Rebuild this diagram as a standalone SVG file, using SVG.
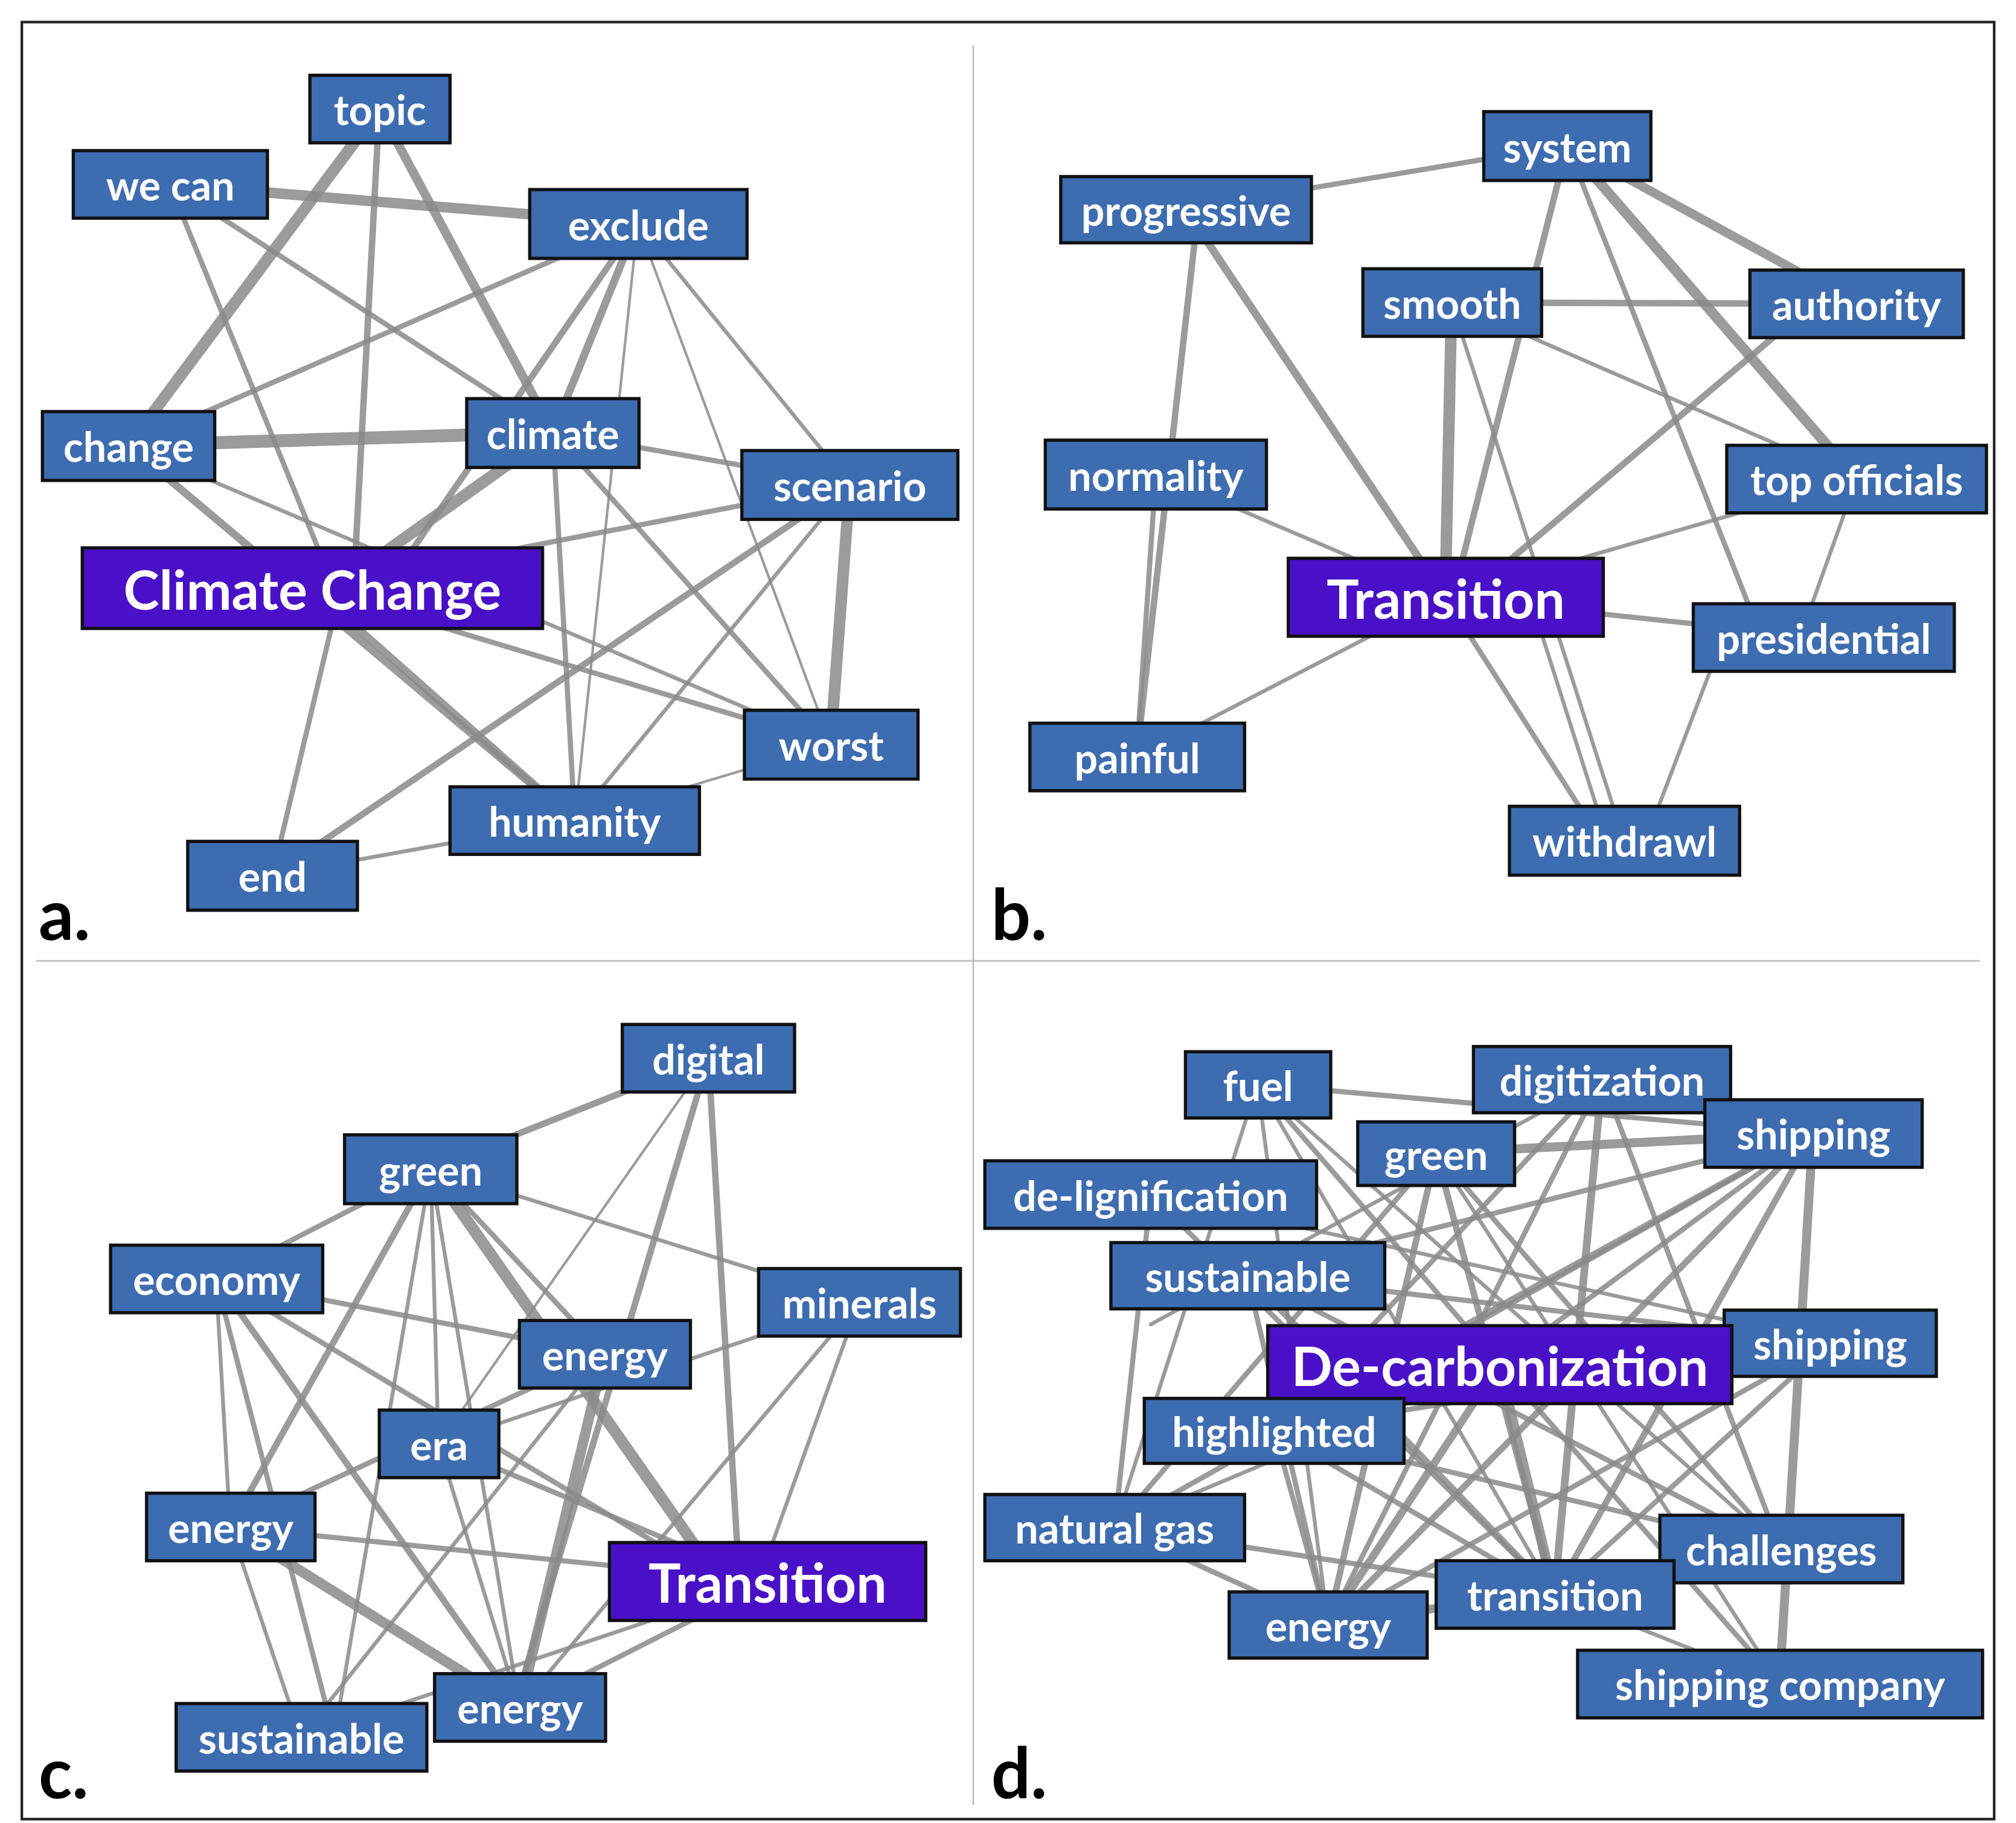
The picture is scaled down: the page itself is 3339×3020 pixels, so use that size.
<svg xmlns="http://www.w3.org/2000/svg" width="3339" height="3020" viewBox="0 0 3339 3020">
<style>
.n rect{fill:#3d6cb0;stroke:#111;stroke-width:2.5}
.m rect{fill:#4a10c8;stroke:#111;stroke-width:2.5}
text{font-family:Lato,"Open Sans","Liberation Sans",sans-serif;font-weight:bold;fill:#fff;text-anchor:middle;dominant-baseline:central}
.n text{font-size:32px}
.m text{font-size:42px}
.lbl{fill:#000;font-size:54px;text-anchor:start}
#edges line{stroke:#8a8a8a;stroke-opacity:0.85;stroke-linecap:round}
</style>
<rect width="3339" height="3020" fill="#fff"/>
<g transform="scale(2.1295,2.151)">
<rect x="17" y="17" width="1534" height="1384" fill="none" stroke="#222" stroke-width="2"/>
<line x1="757" y1="35" x2="757" y2="1390" stroke="#bbb" stroke-width="1.2"/>
<line x1="28" y1="740" x2="1540" y2="740" stroke="#bbb" stroke-width="1.2"/>
<g id="edges">
<!-- a -->
<line x1="132" y1="142" x2="496" y2="172" stroke-width="8"/>
<line x1="295" y1="84" x2="100" y2="343" stroke-width="9"/>
<line x1="295" y1="84" x2="275" y2="453" stroke-width="5"/>
<line x1="295" y1="84" x2="430" y2="333" stroke-width="7"/>
<line x1="132" y1="142" x2="260" y2="453" stroke-width="4"/>
<line x1="132" y1="142" x2="430" y2="333" stroke-width="4"/>
<line x1="496" y1="172" x2="430" y2="333" stroke-width="6"/>
<line x1="496" y1="172" x2="300" y2="453" stroke-width="5"/>
<line x1="496" y1="172" x2="100" y2="343" stroke-width="4"/>
<line x1="496" y1="172" x2="661" y2="373" stroke-width="3"/>
<line x1="496" y1="172" x2="447" y2="632" stroke-width="2"/>
<line x1="496" y1="172" x2="646" y2="573" stroke-width="2"/>
<line x1="100" y1="343" x2="430" y2="333" stroke-width="10"/>
<line x1="100" y1="343" x2="447" y2="632" stroke-width="6"/>
<line x1="100" y1="343" x2="646" y2="573" stroke-width="3"/>
<line x1="430" y1="333" x2="260" y2="453" stroke-width="9"/>
<line x1="430" y1="333" x2="661" y2="373" stroke-width="4"/>
<line x1="430" y1="333" x2="447" y2="632" stroke-width="4"/>
<line x1="430" y1="333" x2="646" y2="573" stroke-width="4"/>
<line x1="243" y1="453" x2="661" y2="373" stroke-width="4"/>
<line x1="243" y1="453" x2="646" y2="573" stroke-width="4"/>
<line x1="243" y1="453" x2="447" y2="632" stroke-width="6"/>
<line x1="265" y1="453" x2="212" y2="674" stroke-width="4"/>
<line x1="661" y1="373" x2="646" y2="573" stroke-width="9"/>
<line x1="661" y1="373" x2="212" y2="674" stroke-width="5"/>
<line x1="661" y1="373" x2="447" y2="632" stroke-width="3"/>
<line x1="646" y1="573" x2="447" y2="632" stroke-width="2"/>
<line x1="447" y1="632" x2="212" y2="674" stroke-width="3"/>
<!-- b -->
<line x1="922" y1="161" x2="1219" y2="112" stroke-width="4"/>
<line x1="932" y1="161" x2="884" y2="583" stroke-width="5"/>
<line x1="922" y1="161" x2="1124" y2="460" stroke-width="6"/>
<line x1="1219" y1="112" x2="1444" y2="234" stroke-width="7"/>
<line x1="1219" y1="112" x2="1444" y2="369" stroke-width="8"/>
<line x1="1219" y1="112" x2="1370" y2="491" stroke-width="4"/>
<line x1="1219" y1="112" x2="1130" y2="460" stroke-width="5"/>
<line x1="1129" y1="233" x2="1444" y2="234" stroke-width="5"/>
<line x1="1129" y1="233" x2="1124" y2="460" stroke-width="9"/>
<line x1="1129" y1="233" x2="1444" y2="369" stroke-width="3"/>
<line x1="1129" y1="233" x2="1263" y2="647" stroke-width="3"/>
<line x1="1410" y1="234" x2="1140" y2="460" stroke-width="5"/>
<line x1="899" y1="365" x2="1124" y2="460" stroke-width="3"/>
<line x1="899" y1="365" x2="884" y2="583" stroke-width="4"/>
<line x1="1444" y1="369" x2="1124" y2="460" stroke-width="3"/>
<line x1="1444" y1="369" x2="1400" y2="491" stroke-width="3"/>
<line x1="1124" y1="460" x2="1418" y2="491" stroke-width="4"/>
<line x1="1124" y1="460" x2="884" y2="583" stroke-width="3"/>
<line x1="1124" y1="460" x2="1245" y2="647" stroke-width="4"/>
<line x1="1190" y1="460" x2="1250" y2="647" stroke-width="3"/>
<line x1="1340" y1="491" x2="1280" y2="647" stroke-width="3"/>
<!-- c -->
<line x1="335" y1="900" x2="551" y2="815" stroke-width="5"/>
<line x1="335" y1="900" x2="168" y2="985" stroke-width="4"/>
<line x1="335" y1="900" x2="668" y2="1003" stroke-width="3"/>
<line x1="335" y1="900" x2="560" y2="1218" stroke-width="9"/>
<line x1="335" y1="900" x2="470" y2="1043" stroke-width="4"/>
<line x1="335" y1="900" x2="341" y2="1112" stroke-width="3"/>
<line x1="335" y1="900" x2="179" y2="1176" stroke-width="5"/>
<line x1="335" y1="900" x2="260" y2="1338" stroke-width="3"/>
<line x1="335" y1="900" x2="404" y2="1315" stroke-width="3"/>
<line x1="551" y1="815" x2="400" y2="1315" stroke-width="5"/>
<line x1="551" y1="815" x2="575" y2="1218" stroke-width="5"/>
<line x1="551" y1="815" x2="341" y2="1112" stroke-width="2"/>
<line x1="168" y1="985" x2="470" y2="1043" stroke-width="4"/>
<line x1="168" y1="985" x2="560" y2="1218" stroke-width="4"/>
<line x1="168" y1="985" x2="179" y2="1176" stroke-width="3"/>
<line x1="168" y1="985" x2="260" y2="1338" stroke-width="4"/>
<line x1="168" y1="985" x2="404" y2="1315" stroke-width="5"/>
<line x1="668" y1="1003" x2="341" y2="1112" stroke-width="3"/>
<line x1="668" y1="1003" x2="404" y2="1315" stroke-width="3"/>
<line x1="668" y1="1003" x2="590" y2="1218" stroke-width="3"/>
<line x1="470" y1="1043" x2="179" y2="1176" stroke-width="4"/>
<line x1="470" y1="1043" x2="404" y2="1315" stroke-width="8"/>
<line x1="470" y1="1043" x2="234" y2="1338" stroke-width="3"/>
<line x1="341" y1="1112" x2="597" y2="1218" stroke-width="4"/>
<line x1="341" y1="1112" x2="404" y2="1315" stroke-width="3"/>
<line x1="179" y1="1176" x2="597" y2="1218" stroke-width="4"/>
<line x1="179" y1="1176" x2="404" y2="1315" stroke-width="8"/>
<line x1="179" y1="1176" x2="234" y2="1338" stroke-width="3"/>
<line x1="597" y1="1218" x2="404" y2="1315" stroke-width="4"/>
<line x1="597" y1="1218" x2="234" y2="1338" stroke-width="3"/>
<!-- d -->
<line x1="978" y1="835" x2="1410" y2="873" stroke-width="4"/>
<line x1="978" y1="835" x2="1166" y2="1051" stroke-width="4"/>
<line x1="978" y1="835" x2="1209" y2="1228" stroke-width="3"/>
<line x1="978" y1="835" x2="1033" y2="1251" stroke-width="3"/>
<line x1="978" y1="835" x2="867" y2="1176" stroke-width="3"/>
<line x1="978" y1="835" x2="1385" y2="1193" stroke-width="3"/>
<line x1="1246" y1="831" x2="1410" y2="873" stroke-width="6"/>
<line x1="1246" y1="831" x2="1209" y2="1228" stroke-width="6"/>
<line x1="1246" y1="831" x2="991" y2="1102" stroke-width="4"/>
<line x1="1246" y1="831" x2="1033" y2="1251" stroke-width="4"/>
<line x1="1246" y1="831" x2="1385" y2="1193" stroke-width="4"/>
<line x1="1246" y1="831" x2="895" y2="1020" stroke-width="3"/>
<line x1="1117" y1="888" x2="1410" y2="873" stroke-width="7"/>
<line x1="1117" y1="888" x2="1033" y2="1251" stroke-width="5"/>
<line x1="1117" y1="888" x2="1209" y2="1228" stroke-width="5"/>
<line x1="1117" y1="888" x2="1385" y2="1193" stroke-width="4"/>
<line x1="1117" y1="888" x2="867" y2="1176" stroke-width="4"/>
<line x1="1117" y1="888" x2="1384" y2="1297" stroke-width="3"/>
<line x1="1410" y1="873" x2="1384" y2="1297" stroke-width="7"/>
<line x1="1410" y1="873" x2="991" y2="1102" stroke-width="5"/>
<line x1="1410" y1="873" x2="1033" y2="1251" stroke-width="5"/>
<line x1="1410" y1="873" x2="1209" y2="1228" stroke-width="5"/>
<line x1="1410" y1="873" x2="970" y2="982" stroke-width="4"/>
<line x1="1410" y1="873" x2="867" y2="1176" stroke-width="4"/>
<line x1="1410" y1="873" x2="1166" y2="1051" stroke-width="4"/>
<line x1="895" y1="920" x2="1209" y2="1228" stroke-width="4"/>
<line x1="895" y1="920" x2="867" y2="1176" stroke-width="4"/>
<line x1="895" y1="920" x2="1423" y2="1034" stroke-width="3"/>
<line x1="970" y1="982" x2="1423" y2="1034" stroke-width="4"/>
<line x1="970" y1="982" x2="1209" y2="1228" stroke-width="5"/>
<line x1="970" y1="982" x2="1033" y2="1251" stroke-width="4"/>
<line x1="970" y1="982" x2="1385" y2="1193" stroke-width="4"/>
<line x1="1166" y1="1051" x2="1209" y2="1228" stroke-width="8"/>
<line x1="1166" y1="1051" x2="1384" y2="1297" stroke-width="4"/>
<line x1="1166" y1="1051" x2="1033" y2="1251" stroke-width="6"/>
<line x1="1423" y1="1034" x2="991" y2="1102" stroke-width="4"/>
<line x1="1423" y1="1034" x2="1033" y2="1251" stroke-width="4"/>
<line x1="1423" y1="1034" x2="1209" y2="1228" stroke-width="4"/>
<line x1="991" y1="1102" x2="1385" y2="1193" stroke-width="4"/>
<line x1="991" y1="1102" x2="1209" y2="1228" stroke-width="4"/>
<line x1="991" y1="1102" x2="1033" y2="1251" stroke-width="4"/>
<line x1="867" y1="1176" x2="1209" y2="1228" stroke-width="4"/>
<line x1="867" y1="1176" x2="1033" y2="1251" stroke-width="4"/>
<line x1="867" y1="1176" x2="1166" y2="1051" stroke-width="3"/>
<line x1="1209" y1="1228" x2="1385" y2="1193" stroke-width="4"/>
<line x1="1033" y1="1251" x2="1385" y2="1193" stroke-width="4"/>
<line x1="1033" y1="1251" x2="1209" y2="1228" stroke-width="4"/>
<line x1="1209" y1="1228" x2="1384" y2="1297" stroke-width="3"/>
</g>
<!-- panel a -->
<g id="a-topic" class="n"><rect x="241" y="58" width="109" height="52"/><text x="295.5" y="84">topic</text></g>
<g id="a-wecan" class="n"><rect x="57" y="116" width="151" height="52"/><text x="132.5" y="142">we can</text></g>
<g id="a-exclude" class="n"><rect x="412" y="146" width="169" height="53"/><text x="496.5" y="172.5">exclude</text></g>
<g id="a-change" class="n"><rect x="33" y="317" width="134" height="53"/><text x="100" y="343.5">change</text></g>
<g id="a-climate" class="n"><rect x="363" y="307" width="134" height="53"/><text x="430" y="333.5">climate</text></g>
<g id="a-scenario" class="n"><rect x="577" y="347" width="168" height="53"/><text x="661" y="373.5">scenario</text></g>
<g id="a-main" class="m"><rect x="64" y="422" width="358" height="62"/><text x="243" y="453">Climate Change</text></g>
<g id="a-worst" class="n"><rect x="579" y="547" width="135" height="53"/><text x="646.5" y="573.5">worst</text></g>
<g id="a-humanity" class="n"><rect x="350" y="606" width="194" height="52"/><text x="447" y="632">humanity</text></g>
<g id="a-end" class="n"><rect x="146" y="648" width="132" height="53"/><text x="212" y="674.5">end</text></g>
<!-- panel b -->
<g id="b-progressive" class="n"><rect x="825" y="136" width="195" height="51"/><text x="922.5" y="161.5">progressive</text></g>
<g id="b-system" class="n"><rect x="1154" y="86" width="130" height="53"/><text x="1219" y="112.5">system</text></g>
<g id="b-smooth" class="n"><rect x="1060" y="207" width="139" height="52"/><text x="1129.5" y="233">smooth</text></g>
<g id="b-authority" class="n"><rect x="1361" y="208" width="166" height="52"/><text x="1444" y="234">authority</text></g>
<g id="b-normality" class="n"><rect x="813" y="339" width="172" height="53"/><text x="899" y="365.5">normality</text></g>
<g id="b-topoff" class="n"><rect x="1343" y="343" width="202" height="52"/><text x="1444" y="369">top officials</text></g>
<g id="b-main" class="m"><rect x="1002" y="430" width="245" height="60"/><text x="1124.5" y="460">Transition</text></g>
<g id="b-presidential" class="n"><rect x="1317" y="465" width="203" height="52"/><text x="1418.5" y="491">presidential</text></g>
<g id="b-painful" class="n"><rect x="801" y="557" width="167" height="52"/><text x="884.5" y="583">painful</text></g>
<g id="b-withdrawl" class="n"><rect x="1174" y="621" width="179" height="53"/><text x="1263.5" y="647.5">withdrawl</text></g>
<!-- panel c -->
<g id="c-digital" class="n"><rect x="484" y="789" width="134" height="52"/><text x="551" y="815">digital</text></g>
<g id="c-green" class="n"><rect x="268" y="874" width="134" height="53"/><text x="335" y="900.5">green</text></g>
<g id="c-economy" class="n"><rect x="86" y="959" width="165" height="52"/><text x="168.5" y="985">economy</text></g>
<g id="c-minerals" class="n"><rect x="590" y="977" width="157" height="52"/><text x="668.5" y="1003">minerals</text></g>
<g id="c-energy1" class="n"><rect x="404" y="1017" width="133" height="52"/><text x="470.5" y="1043">energy</text></g>
<g id="c-era" class="n"><rect x="295" y="1086" width="93" height="52"/><text x="341.5" y="1112">era</text></g>
<g id="c-energy2" class="n"><rect x="114" y="1150" width="131" height="52"/><text x="179.5" y="1176">energy</text></g>
<g id="c-main" class="m"><rect x="474" y="1188" width="246" height="60"/><text x="597" y="1218">Transition</text></g>
<g id="c-sustainable" class="n"><rect x="137" y="1312" width="195" height="52"/><text x="234.5" y="1338">sustainable</text></g>
<g id="c-energy3" class="n"><rect x="338" y="1289" width="133" height="52"/><text x="404.5" y="1315">energy</text></g>
<!-- panel d -->
<g id="d-fuel" class="n"><rect x="922" y="810" width="113" height="51"/><text x="978.5" y="835.5">fuel</text></g>
<g id="d-digitization" class="n"><rect x="1146" y="806" width="200" height="51"/><text x="1246" y="831.5">digitization</text></g>
<g id="d-green" class="n"><rect x="1056" y="864" width="122" height="49"/><text x="1117" y="888.5">green</text></g>
<g id="d-shipping1" class="n"><rect x="1326" y="847" width="169" height="52"/><text x="1410.5" y="873">shipping</text></g>
<g id="d-delig" class="n"><rect x="766" y="894" width="258" height="52"/><text x="895" y="920">de-lignification</text></g>
<g id="d-sustainable" class="n"><rect x="864" y="957" width="213" height="51"/><text x="970.5" y="982.5">sustainable</text></g>
<g id="d-shipping2" class="n"><rect x="1341" y="1009" width="165" height="51"/><text x="1423.5" y="1034.5">shipping</text></g>
<g id="d-main" class="m"><rect x="986" y="1021" width="361" height="60"/><text x="1166.5" y="1051">De-carbonization</text></g>
<g id="d-highlighted" class="n"><rect x="890" y="1077" width="202" height="50"/><text x="991" y="1102">highlighted</text></g>
<g id="d-natgas" class="n"><rect x="766" y="1151" width="202" height="51"/><text x="867" y="1176.5">natural gas</text></g>
<g id="d-challenges" class="n"><rect x="1291" y="1167" width="189" height="52"/><text x="1385.5" y="1193">challenges</text></g>
<g id="d-transition" class="n"><rect x="1117" y="1202" width="185" height="52"/><text x="1209.5" y="1228">transition</text></g>
<g id="d-energy" class="n"><rect x="956" y="1226" width="154" height="51"/><text x="1033" y="1251.5">energy</text></g>
<g id="d-shipco" class="n"><rect x="1227" y="1271" width="315" height="52"/><text x="1384.5" y="1297">shipping company</text></g>
<text class="lbl" x="30" y="703">a.</text>
<text class="lbl" x="771" y="703">b.</text>
<text class="lbl" x="30" y="1364">c.</text>
<text class="lbl" x="771" y="1364">d.</text>
</g>
</svg>
